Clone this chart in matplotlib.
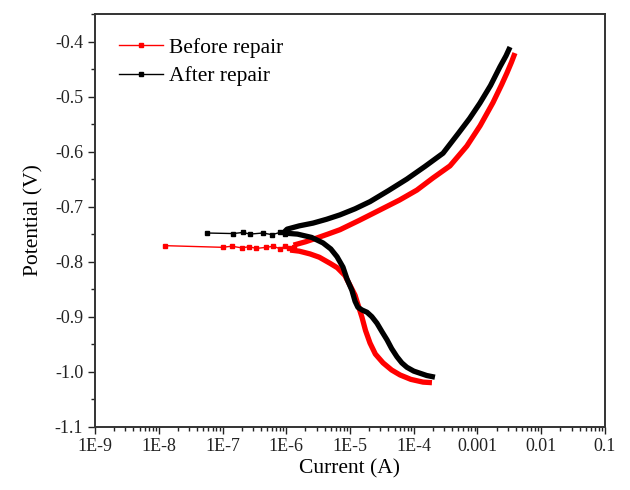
#!/usr/bin/env python3
"""
Tafel polarization curves before and after repair
"""

import matplotlib
matplotlib.use('Agg')
import matplotlib.pyplot as plt
import matplotlib.ticker as mticker
from matplotlib.lines import Line2D

# Before repair (red)
red_cath_i = [1.93e-4, 1.4e-4, 9.0e-5, 6.1e-5, 4.5e-5, 3.3e-5, 2.5e-5, 2.06e-5, 1.75e-5, 1.54e-5,
              1.2e-5, 1.0e-5, 8.3e-6, 6.3e-6, 4.85e-6, 3.3e-6, 2.36e-6, 1.6e-6, 1.15e-6]
red_cath_e = [-1.020, -1.019, -1.014, -1.006, -0.997, -0.984, -0.968, -0.948, -0.925, -0.901,
              -0.861, -0.843, -0.825, -0.811, -0.803, -0.792, -0.786, -0.781, -0.779]
red_noise_i = [1.26e-8, 1.0e-7, 1.4e-7, 2.0e-7, 2.6e-7, 3.4e-7, 4.9e-7, 6.3e-7, 8.1e-7, 9.7e-7, 1.1e-6, 1.3e-6]
red_noise_e = [-0.771, -0.774, -0.772, -0.775, -0.773, -0.776, -0.774, -0.772, -0.777, -0.771, -0.776, -0.774]
red_anod_i = [1.3e-6, 2.0e-6, 3.03e-6, 4.5e-6, 6.97e-6, 1.4e-5, 2.96e-5, 6.0e-5, 1.12e-4, 2.0e-4,
              3.7e-4, 6.8e-4, 1.1e-3, 1.75e-3, 2.4e-3, 2.9e-3, 3.4e-3, 3.87e-3]
red_anod_e = [-0.770, -0.764, -0.757, -0.750, -0.742, -0.725, -0.706, -0.688, -0.670, -0.648,
              -0.626, -0.590, -0.553, -0.511, -0.478, -0.457, -0.438, -0.421]

# After repair (black)
blk_cath_i = [2.15e-4, 1.6e-4, 1.0e-4, 7.8e-5, 6.5e-5, 5.46e-5, 4.5e-5, 3.8e-5, 3.2e-5, 2.65e-5,
              2.2e-5, 1.85e-5, 1.55e-5, 1.33e-5, 1.2e-5, 1.07e-5, 9.0e-6, 7.76e-6, 6.25e-6,
              5.0e-6, 3.77e-6, 2.5e-6, 1.5e-6, 8.9e-7]
blk_cath_e = [-1.010, -1.007, -0.999, -0.992, -0.984, -0.973, -0.958, -0.942, -0.928, -0.912,
              -0.900, -0.892, -0.888, -0.883, -0.872, -0.852, -0.832, -0.810, -0.791,
              -0.777, -0.766, -0.756, -0.750, -0.748]
blk_noise_i = [5.7e-8, 1.46e-7, 2.1e-7, 2.7e-7, 4.3e-7, 5.97e-7, 7.97e-7, 9.56e-7]
blk_noise_e = [-0.748, -0.749, -0.747, -0.750, -0.748, -0.751, -0.747, -0.750]
blk_anod_i = [9.0e-7, 1.03e-6, 1.6e-6, 2.63e-6, 4.3e-6, 6.97e-6, 1.2e-5, 2.06e-5, 4.0e-5, 7.8e-5,
              1.5e-4, 2.88e-4, 5.0e-4, 7.5e-4, 1.09e-3, 1.6e-3, 2.25e-3, 2.8e-3, 3.24e-3]
blk_anod_e = [-0.748, -0.741, -0.735, -0.730, -0.723, -0.715, -0.704, -0.691, -0.671, -0.650,
              -0.627, -0.603, -0.567, -0.540, -0.512, -0.480, -0.446, -0.426, -0.410]

xtick_vals = [1e-9, 1e-8, 1e-7, 1e-6, 1e-5, 1e-4, 1e-3, 1e-2, 1e-1]
xtick_labels = ['1E-9', '1E-8', '1E-7', '1E-6', '1E-5', '1E-4', '0.001', '0.01', '0.1']


def main():
    plt.rcParams['font.family'] = ['Liberation Serif', 'DejaVu Serif']
    fig = plt.figure(figsize=(6.3, 4.9), dpi=100)
    ax = fig.add_axes([0.1508, 0.1292, 0.8095, 0.8422])

    # thick branches
    for i, e, c in [(red_cath_i, red_cath_e, 'red'), (red_anod_i, red_anod_e, 'red'),
                    (blk_cath_i, blk_cath_e, 'black'), (blk_anod_i, blk_anod_e, 'black')]:
        ax.plot(i, e, color=c, linewidth=3.8, solid_capstyle='butt', solid_joinstyle='round')

    # noisy region near Ecorr
    ax.plot(red_noise_i, red_noise_e, color='red', linewidth=1.0, marker='s', markersize=3.5)
    ax.plot(blk_noise_i, blk_noise_e, color='black', linewidth=1.0, marker='s', markersize=3.5)

    ax.set_xscale('log')
    ax.set_xlim(1e-9, 1e-1)
    ax.set_ylim(-1.1, -0.35)
    ax.xaxis.set_major_locator(mticker.FixedLocator(xtick_vals))
    ax.xaxis.set_major_formatter(mticker.FixedFormatter(xtick_labels))
    ax.xaxis.set_minor_locator(mticker.LogLocator(base=10, subs=range(2, 10), numticks=20))
    ax.xaxis.set_minor_formatter(mticker.NullFormatter())
    ax.yaxis.set_major_locator(mticker.MultipleLocator(0.1))
    ax.yaxis.set_minor_locator(mticker.MultipleLocator(0.05))
    ax.yaxis.set_major_formatter(mticker.FuncFormatter(lambda v, p: f'{v:.1f}'))

    ax.tick_params(which='major', direction='out', length=5, width=1, labelsize=13, colors='#222222')
    ax.tick_params(which='minor', direction='out', length=3, width=1, colors='#222222')
    ax.tick_params(axis='x', pad=3)
    for sp in ax.spines.values():
        sp.set_linewidth(1.4)
        sp.set_color('#333333')

    ax.set_xlabel('Current (A)', fontsize=15.5, labelpad=3)
    ax.set_ylabel('Potential (V)', fontsize=15.5, labelpad=8)

    handles = [
        Line2D([], [], color='red', linewidth=1.0, marker='s', markersize=3.5),
        Line2D([], [], color='black', linewidth=1.0, marker='s', markersize=3.5),
    ]
    ax.legend(handles, ['Before repair', 'After repair'], loc='upper left',
              bbox_to_anchor=(0.01, 0.99), frameon=False, fontsize=15.5,
              handlelength=2.0, handletextpad=0.3, labelspacing=0.4)

    fig.savefig('out.png', dpi=100)
    plt.close(fig)


if __name__ == '__main__':
    main()
